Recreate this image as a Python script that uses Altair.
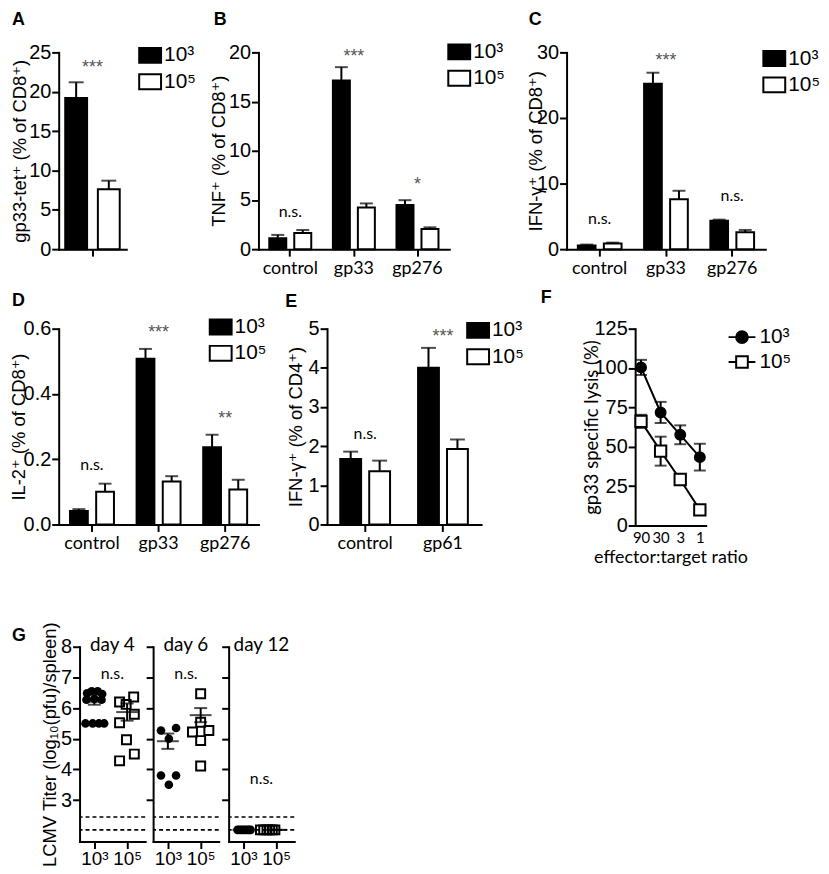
import altair as alt
import pandas as pd

LOW, HIGH = "10³", "10⁵"
GROUPS = [LOW, HIGH]
NUM = "Liberation Sans, Arial, DejaVu Sans"
TXT = "Lato, DejaVu Sans"

# ---------------- data ----------------
A_cats = ["gp33-tet"]
A_low_mean = [19.2]
A_low_sem = [2.0]
A_high_mean = [7.6]
A_high_sem = [1.1]
A_sig = ["***"]
A_sig_y = [23.5]

B_cats = ["control", "gp33", "gp276"]
B_low_mean = [1.11, 17.14, 4.48]
B_low_sem = [0.34, 1.36, 0.5]
B_high_mean = [1.65, 4.24, 2.05]
B_high_sem = [0.3, 0.41, 0.17]
B_sig = ["n.s.", "***", "*"]
B_sig_y = [3.7, 19.9, 6.9]

C_cats = ["control", "gp33", "gp276"]
C_low_mean = [0.55, 25.2, 4.35]
C_low_sem = [0.15, 1.7, 0.15]
C_high_mean = [0.86, 7.62, 2.58]
C_high_sem = [0.14, 1.28, 0.35]
C_sig = ["n.s.", "***", "n.s."]
C_sig_y = [4.5, 29.35, 7.9]

D_cats = ["control", "gp33", "gp276"]
D_low_mean = [0.041, 0.508, 0.237]
D_low_sem = [0.006, 0.03, 0.038]
D_high_mean = [0.1, 0.132, 0.107]
D_high_sem = [0.025, 0.016, 0.03]
D_sig = ["n.s.", "***", "**"]
D_sig_y = [0.179, 0.599, 0.335]

E_cats = ["control", "gp61"]
E_low_mean = [1.675, 4.0]
E_low_sem = [0.185, 0.51]
E_high_mean = [1.36, 1.93]
E_high_sem = [0.27, 0.24]
E_sig = ["n.s.", "***"]
E_sig_y = [2.28, 4.9]

F_ratio = ["90", "30", "3", "1"]
F_low_mean = [100.4, 71.8, 57.6, 43.4]
F_low_sem = [4.8, 6.7, 6.0, 8.5]
F_high_mean = [66.1, 47.2, 29.2, 9.9]
F_high_sem = [4.2, 9.2, 2.0, 2.0]

G_days = ["day 4", "day 6", "day 12"]
G_pos = [1, 2]
G_dash = [2.45, 2.03]
G_label_x = [1.55]
G_day_y = 8.07
G_ns_y = [7.12, 7.12, 3.68]

G4_low_x = [0.78, 0.92, 1.1, 1.24, 0.76, 1.22, 1.0, 0.73, 0.95, 1.14, 1.3]
G4_low_y = [6.48, 6.55, 6.55, 6.46, 6.27, 6.27, 6.3, 5.5, 5.5, 5.5, 5.5]
G4_high_x = [1.77, 2.2, 1.97, 2.22, 1.77, 1.98, 2.22, 1.77]
G4_high_y = [6.2, 6.36, 6.12, 5.8, 5.52, 4.97, 4.5, 4.28]
G4_mean = [6.21, 5.87]
G4_sem = [0.1, 0.28]

G6_low_x = [0.79, 1.25, 1.03, 0.79, 1.25, 1.03]
G6_low_y = [5.27, 5.35, 5.0, 3.8, 3.8, 3.5]
G6_high_x = [2.0, 1.75, 2.25, 2.0, 2.0, 2.0]
G6_high_y = [6.47, 5.22, 5.27, 5.54, 4.94, 4.11]
G6_mean = [4.92, 5.77]
G6_sem = [0.25, 0.23]

G12_low_x = [0.82, 0.88, 0.94, 1.0, 1.06, 1.12, 1.17, 1.22]
G12_low_y = [2.03, 2.03, 2.03, 2.03, 2.03, 2.03, 2.03, 2.03]
G12_high_x = [1.52, 1.62, 1.72, 1.8, 1.88, 1.96]
G12_high_y = [2.03, 2.03, 2.03, 2.03, 2.03, 2.03]
G12_mean = [2.03, 2.03]
G12_sem = [0.0, 0.0]

RECT = "M-1.1,-0.75H1.1V0.75H-1.1Z"
LINE_CIRCLE = "M-1.5,0H1.5M-0.65,0A0.65,0.65,0,1,1,0.65,0A0.65,0.65,0,1,1,-0.65,0Z"
LINE_SQUARE = "M-1.5,0H-0.65M0.65,0H1.5M-0.65,-0.65H0.65V0.65H-0.65Z"


def letter_title(letter, dx, dy):
    return alt.Title(letter, anchor="start", frame="group", dx=dx, dy=dy, offset=0,
                     baseline="bottom", font=NUM, fontSize=18, fontWeight="bold", color="black")


def spacer(w, h=1):
    return alt.Chart(pd.DataFrame({"v": [0]})).mark_point(opacity=0, size=1).encode(
        x=alt.X("v:Q", axis=None), y=alt.Y("v:Q", axis=None)).properties(width=w, height=h)


def bar_panel(letter, cats, lm, ls, hm, hs, sig, sig_y, ytitle, ymax, yticks, yfmt,
              width, height, extent, pad_in, pad_out, off_pad, cap, leg, ldx, ldy,
              show_labels=True):
    n = len(cats)
    bars = pd.DataFrame({
        "cat": cats + cats,
        "grp": [LOW] * n + [HIGH] * n,
        "mean": lm + hm,
        "sem": ls + hs,
    })
    bars["top"] = bars["mean"] + bars["sem"]
    sigdf = pd.DataFrame({"cat": cats, "label": sig, "y": sig_y})

    xenc = alt.X("cat:N", sort=cats,
                 scale=alt.Scale(paddingInner=pad_in, paddingOuter=pad_out),
                 axis=alt.Axis(title=None, labels=show_labels, labelAngle=0, labelFont=TXT,
                               labelFontSize=18, labelPadding=3, tickSize=7))
    xoff = alt.XOffset("grp:N", sort=GROUPS,
                       scale=alt.Scale(domain=GROUPS, paddingInner=off_pad, paddingOuter=0))
    yaxis = alt.Axis(title=ytitle, values=yticks, format=yfmt, minExtent=extent,
                     maxExtent=extent, titlePadding=0)
    ysc = alt.Scale(domain=[0, ymax], nice=False, zero=True)

    base = alt.Chart(bars)
    bar = base.mark_bar(stroke="black", strokeWidth=2).encode(
        x=xenc, xOffset=xoff,
        y=alt.Y("mean:Q", scale=ysc, axis=yaxis),
        fill=alt.Fill("grp:N", sort=GROUPS,
                      scale=alt.Scale(domain=GROUPS, range=["black", "white"]),
                      legend=alt.Legend(title=None, orient="none", legendX=leg[0],
                                        legendY=leg[1], symbolType=RECT, symbolSize=400,
                                        symbolStrokeColor="black", symbolStrokeWidth=2,
                                        labelOffset=3, rowPadding=2.5)))
    err = base.mark_rule(color="black", strokeWidth=2).encode(
        x=xenc, xOffset=xoff, y=alt.Y("mean:Q", scale=ysc, axis=yaxis), y2="top:Q")
    caps = base.mark_tick(color="black", thickness=2, size=cap, orient="horizontal").encode(
        x=xenc, xOffset=xoff, y=alt.Y("top:Q", scale=ysc, axis=yaxis))
    ast = alt.Chart(sigdf).transform_filter("indexof(datum.label, '*') >= 0").mark_text(
        font=NUM, fontSize=18, color="#555555", dy=4).encode(
        x=xenc, y=alt.Y("y:Q", scale=ysc, axis=yaxis), text="label:N")
    ns = alt.Chart(sigdf).transform_filter("indexof(datum.label, '*') < 0").mark_text(
        font=TXT, fontSize=16, color="black", dy=-1).encode(
        x=xenc, y=alt.Y("y:Q", scale=ysc, axis=yaxis), text="label:N")
    return alt.layer(bar, err, caps, ast, ns).properties(
        width=width, height=height, title=letter_title(letter, ldx, ldy))


def f_panel():
    df = pd.DataFrame({
        "ratio": F_ratio + F_ratio,
        "grp": [LOW] * 4 + [HIGH] * 4,
        "mean": F_low_mean + F_high_mean,
        "sem": F_low_sem + F_high_sem,
    })
    df["lo"] = df["mean"] - df["sem"]
    df["hi"] = df["mean"] + df["sem"]
    x = alt.X("ratio:O", sort=F_ratio, scale=alt.Scale(type="point", padding=0.3),
              axis=alt.Axis(title="effector:target ratio", ticks=False, labelAngle=0,
                            labelFont=TXT, labelFontSize=15, titleFont=TXT, titleFontSize=18,
                            labelPadding=5, titlePadding=3))
    ysc = alt.Scale(domain=[0, 125], nice=False)
    yaxis = alt.Axis(title="gp33 specific lysis (%)", values=[0, 25, 50, 75, 100, 125],
                     titleFont=TXT, minExtent=34, maxExtent=34, titlePadding=0)
    base = alt.Chart(df)
    line = base.mark_line(color="black", strokeWidth=2).encode(
        x=x, y=alt.Y("mean:Q", scale=ysc, axis=yaxis), detail="grp:N")
    err = base.mark_rule(color="black", strokeWidth=2).encode(
        x=x, y=alt.Y("lo:Q", scale=ysc, axis=yaxis), y2="hi:Q")
    cap_lo = base.mark_tick(color="black", thickness=2, size=12, orient="horizontal").encode(
        x=x, y=alt.Y("lo:Q", scale=ysc, axis=yaxis))
    cap_hi = base.mark_tick(color="black", thickness=2, size=12, orient="horizontal").encode(
        x=x, y=alt.Y("hi:Q", scale=ysc, axis=yaxis))
    circ = base.transform_filter(alt.datum.grp == LOW).mark_point(
        shape="circle", filled=True, fill="black", stroke="black", strokeWidth=1.5,
        size=110, opacity=1).encode(x=x, y=alt.Y("mean:Q", scale=ysc, axis=yaxis))
    sq = base.transform_filter(alt.datum.grp == HIGH).mark_point(
        shape="square", filled=True, fill="white", stroke="black", strokeWidth=2,
        size=130, opacity=1).encode(x=x, y=alt.Y("mean:Q", scale=ysc, axis=yaxis))
    leg = alt.Legend(title=None, orient="none", legendX=97, legendY=-2, symbolSize=324,
                     symbolStrokeColor="black", symbolStrokeWidth=2, labelOffset=7,
                     rowPadding=3)
    legend_layer = base.transform_filter("false").mark_point(
        filled=True, strokeWidth=2, opacity=1).encode(
        x=x, y=alt.Y("mean:Q", scale=ysc, axis=yaxis),
        shape=alt.Shape("grp:N", sort=GROUPS,
                        scale=alt.Scale(domain=GROUPS, range=[LINE_CIRCLE, LINE_SQUARE]),
                        legend=leg),
        fill=alt.Fill("grp:N", sort=GROUPS,
                      scale=alt.Scale(domain=GROUPS, range=["black", "white"]), legend=leg),
        stroke=alt.Stroke("grp:N", sort=GROUPS,
                          scale=alt.Scale(domain=GROUPS, range=["black", "black"]),
                          legend=leg))
    return alt.layer(line, err, cap_lo, cap_hi, circ, sq, legend_layer).properties(
        width=71, height=198, title=letter_title("F", -95, 6))


def g_panel(day, cx, cy, sx, sy, means, sems, ns_y, first):
    pts_c = pd.DataFrame({"x": cx, "y": cy})
    pts_s = pd.DataFrame({"x": sx, "y": sy})
    st = pd.DataFrame({"x": G_pos, "mean": means, "sem": sems})
    st["lo"] = st["mean"] - st["sem"]
    st["hi"] = st["mean"] + st["sem"]
    lod = pd.DataFrame({"y": G_dash})
    lab = pd.DataFrame({"x": G_label_x * 2, "y": [ns_y, G_day_y], "t": ["n.s.", day],
                        "kind": ["ns", "day"]})

    x = alt.X("x:Q", scale=alt.Scale(domain=[0.55, 2.55], nice=False, zero=False),
              axis=alt.Axis(values=G_pos, title=None, tickSize=7, labelPadding=1,
                            labelFont=NUM, labelFontSize=19, labelFlush=False,
                            labelExpr=f"datum.value == 1 ? '{LOW}' : '{HIGH}'"))
    ysc = alt.Scale(domain=[1.65, 8], nice=False, zero=False)
    if first:
        yaxis = alt.Axis(values=[3, 4, 5, 6, 7, 8], title="LCMV Titer (log₁₀(pfu)/spleen)",
                         minExtent=20, maxExtent=20, titlePadding=0)
    else:
        yaxis = alt.Axis(values=[3, 4, 5, 6, 7, 8], title=None, labels=False)

    dash = alt.Chart(lod).mark_rule(color="black", strokeWidth=1.6, strokeDash=[4, 3]).encode(
        y=alt.Y("y:Q", scale=ysc, axis=yaxis))
    circ = alt.Chart(pts_c).mark_point(shape="circle", filled=True, color="black", size=75,
                                       opacity=1).encode(
        x=x, y=alt.Y("y:Q", scale=ysc, axis=yaxis))
    sq = alt.Chart(pts_s).mark_point(shape="square", filled=False, color="black",
                                     strokeWidth=2, size=81, opacity=1).encode(
        x=x, y=alt.Y("y:Q", scale=ysc, axis=yaxis))
    mean = alt.Chart(st).mark_tick(color="black", thickness=2, size=22,
                                   orient="horizontal").encode(
        x=x, y=alt.Y("mean:Q", scale=ysc, axis=yaxis))
    err = alt.Chart(st).mark_rule(color="black", strokeWidth=2).encode(
        x=x, y=alt.Y("lo:Q", scale=ysc, axis=yaxis), y2="hi:Q")
    cap_lo = alt.Chart(st).mark_tick(color="black", thickness=2, size=13,
                                     orient="horizontal").encode(
        x=x, y=alt.Y("lo:Q", scale=ysc, axis=yaxis))
    cap_hi = alt.Chart(st).mark_tick(color="black", thickness=2, size=13,
                                     orient="horizontal").encode(
        x=x, y=alt.Y("hi:Q", scale=ysc, axis=yaxis))
    ns = alt.Chart(lab).transform_filter(alt.datum.kind == "ns").mark_text(
        font=TXT, fontSize=16, color="black").encode(
        x=x, y=alt.Y("y:Q", scale=ysc, axis=yaxis), text="t:N")
    dayt = alt.Chart(lab).transform_filter(alt.datum.kind == "day").mark_text(
        font=TXT, fontSize=19, color="black").encode(
        x=x, y=alt.Y("y:Q", scale=ysc, axis=yaxis), text="t:N")
    layered = alt.layer(dash, circ, sq, mean, err, cap_lo, cap_hi, ns, dayt)
    if first:
        return layered.properties(width=66, height=196, title=letter_title("G", -68, 42))
    return layered.properties(width=66, height=196)


A = bar_panel("A", A_cats, A_low_mean, A_low_sem, A_high_mean, A_high_sem, A_sig, A_sig_y,
              "gp33-tet⁺ (% of CD8⁺)", 25, [0, 5, 10, 15, 20, 25], "d",
              68, 198, 29, 0.0, 0.12, 0.33, 15, (81, -8), -47, 4, show_labels=False)
B = bar_panel("B", B_cats, B_low_mean, B_low_sem, B_high_mean, B_high_sem, B_sig, B_sig_y,
              "TNF⁺ (% of CD8⁺)", 20, [0, 5, 10, 15, 20], "d",
              192, 198, 30, 0.34, 0.17, 0.32, 13, (191, -11.5), -45, 5.5)
C = bar_panel("C", C_cats, C_low_mean, C_low_sem, C_high_mean, C_high_sem, C_sig, C_sig_y,
              "IFN-γ⁺ (% of CD8⁺)", 30, [0, 10, 20, 30], "d",
              200, 198, 21, 0.34, 0.17, 0.32, 13, (198, -4.8), -38, 4)
D = bar_panel("D", D_cats, D_low_mean, D_low_sem, D_high_mean, D_high_sem, D_sig, D_sig_y,
              "IL-2⁺ (% of CD8⁺)", 0.6, [0, 0.2, 0.4, 0.6], ".1f",
              201, 197, 30, 0.34, 0.17, 0.32, 13, (152, -12.7), -47, 12)
E = bar_panel("E", E_cats, E_low_mean, E_low_sem, E_high_mean, E_high_sem, E_sig, E_sig_y,
              "IFN-γ⁺ (% of CD4⁺)", 5, [0, 1, 2, 3, 4, 5], "d",
              155, 197, 22, 0.36, 0.17, 0.28, 15, (141, -9.3), -42, 10.5)
F = f_panel()

G1 = g_panel(G_days[0], G4_low_x, G4_low_y, G4_high_x, G4_high_y, G4_mean, G4_sem, G_ns_y[0], True)
G2 = g_panel(G_days[1], G6_low_x, G6_low_y, G6_high_x, G6_high_y, G6_mean, G6_sem, G_ns_y[1], False)
G3 = g_panel(G_days[2], G12_low_x, G12_low_y, G12_high_x, G12_high_y, G12_mean, G12_sem, G_ns_y[2], False)

RES = dict(fill="independent", shape="independent", stroke="independent",
           xOffset="independent")

row1 = alt.hconcat(A, spacer(133), B, spacer(118), C, spacing=0,
                   bounds="flush").resolve_scale(**RES)
row2 = alt.hconcat(D, spacer(69), E, spacer(155), F, spacing=0,
                   bounds="flush").resolve_scale(**RES)
row3 = alt.hconcat(spacer(21), G1, spacer(8), G2, spacer(10), G3, spacing=0,
                   bounds="flush").resolve_scale(**RES)

top2 = alt.vconcat(row1, row2, spacing=12).resolve_scale(**RES)
chart = alt.vconcat(top2, row3, spacing=55).resolve_scale(**RES)

chart = chart.properties(
    padding={"left": 2, "top": 0, "right": 0, "bottom": 0}
).configure_view(stroke=None).configure_axis(
    domainColor="black", domainWidth=2, tickColor="black", tickWidth=2, tickSize=7,
    labelColor="black", titleColor="black", grid=False, labelFont=NUM, labelFontSize=20,
    titleFont=NUM, titleFontSize=18.5, titleFontWeight="normal", labelPadding=1,
    domainCap="square"
).configure_legend(
    labelFont=NUM, labelFontSize=21, labelColor="black", padding=0
).configure_title(color="black")

chart.save("out.html", embed_options={"renderer": "svg", "actions": False})
